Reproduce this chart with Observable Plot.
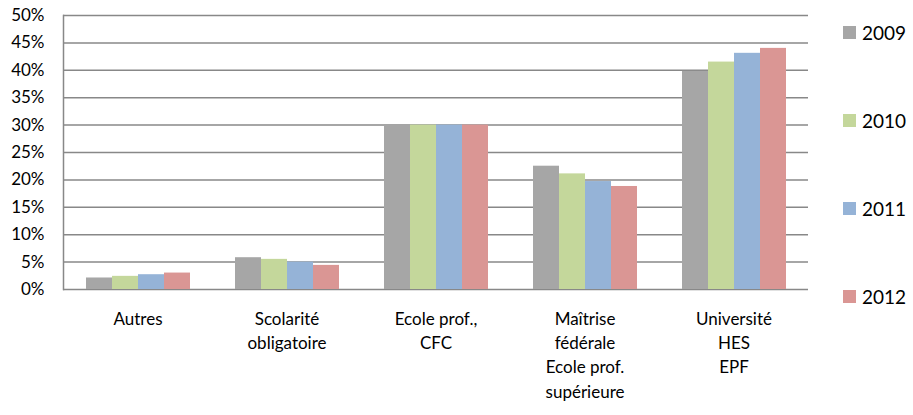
<!DOCTYPE html>
<html><head><meta charset="utf-8">
<script src="https://cdn.jsdelivr.net/npm/d3@7"></script>
<script src="https://cdn.jsdelivr.net/npm/@observablehq/plot@0.6"></script>
<style>
body{margin:0;background:#fff;font-family:Lato,sans-serif}
#wrap{position:relative;width:913px;height:415px}
#legend{position:absolute;left:843px;top:20px;display:flex;flex-direction:column;gap:64px}
.item{display:flex;align-items:center;height:24px;font-size:19px;color:#000}
.sw{width:13px;height:13px;margin-right:6px}
</style></head><body><div id="wrap"></div>
<script>
const categories = ["Autres","Scolarité\nobligatoire","Ecole prof.,\nCFC","Maîtrise\nfédérale\nEcole prof.\nsupérieure","Université\nHES\nEPF"];
const years = ["2009","2010","2011","2012"];
const v2009 = [2.1, 5.8, 30.0, 22.5, 39.8];
const v2010 = [2.4, 5.5, 30.0, 21.1, 41.5];
const v2011 = [2.7, 5.0, 30.0, 19.7, 43.1];
const v2012 = [3.0, 4.4, 30.0, 18.8, 44.0];
const series = [v2009, v2010, v2011, v2012];
const colors = ["#a6a6a6", "#c4d79b", "#95b3d7", "#da9694"];
const yTicks = [0, 5, 10, 15, 20, 25, 30, 35, 40, 45, 50];

const data = categories.flatMap((c, i) => years.map((y, j) => ({category: c, year: y, value: series[j][i]})));

const chart = Plot.plot({
  width: 913, height: 415,
  marginTop: 15, marginBottom: 126, marginLeft: 63, marginRight: 105,
  style: {fontFamily: "Lato, sans-serif", fontSize: "17px", color: "#000", background: "#fff"},
  fx: {domain: categories, padding: 0, label: null},
  x: {domain: years, paddingInner: 0, paddingOuter: 0.78, axis: null},
  y: {domain: [0, 50], label: null},
  color: {domain: years, range: colors},
  marks: [
    Plot.gridY(yTicks, {stroke: "#888", strokeOpacity: 1, strokeWidth: 1.5}),
    Plot.barY(data, {fx: "category", x: "year", y: "value", fill: "year"}),
    Plot.axisY(yTicks, {tickSize: 0, tickPadding: 19, tickFormat: d => d + "%", label: null, fontSize: 17}),
    Plot.axisFx({anchor: "bottom", tickSize: 0, tickPadding: 18, lineHeight: 1.43, label: null, fontSize: 17}),
    Plot.frame({anchor: "left", facetAnchor: "left", stroke: "#888", strokeWidth: 1.5})
  ]
});
const wrap = document.getElementById("wrap");
wrap.appendChild(chart);
const legend = document.createElement("div");
legend.id = "legend";
years.forEach((y, j) => {
  const it = document.createElement("div");
  it.className = "item";
  it.innerHTML = `<span class="sw" style="background:${colors[j]}"></span><span>${y}</span>`;
  legend.appendChild(it);
});
wrap.appendChild(legend);
</script></body></html>
